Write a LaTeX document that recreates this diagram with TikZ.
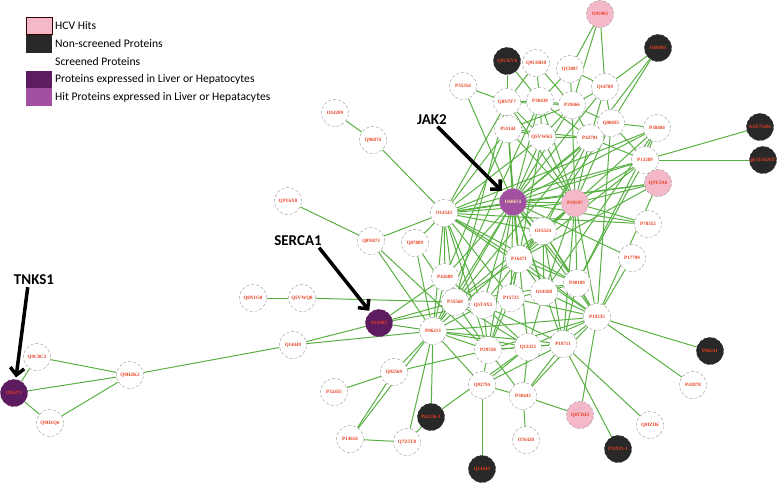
\documentclass[tikz,border=0pt]{standalone}
\usepackage{fontspec}
\setmainfont{Carlito}
\newfontfamily\idfont{Liberation Serif}
\usetikzlibrary{arrows.meta,backgrounds}
\definecolor{hitpink}{RGB}{245,184,200}
\definecolor{nonscreened}{RGB}{40,40,40}
\definecolor{liverpurple}{RGB}{94,28,96}
\definecolor{liverhitpurple}{RGB}{162,80,160}
\definecolor{linkgreen}{RGB}{88,176,66}
\definecolor{idred}{RGB}{232,62,30}
\definecolor{idyellow}{RGB}{250,235,160}

\begin{document}
\begin{tikzpicture}[x=1pt,y=-1pt,
    prot/.style={circle, minimum size=27pt, inner sep=0pt, draw=gray!80, densely dashed,
      line width=0.4pt, fill=white, text=idred, font=\idfont\bfseries\fontsize{5}{6}\selectfont},
    hit/.style={prot, fill=hitpink},
    nonscr/.style={prot, fill=nonscreened, draw=nonscreened},
    liver/.style={prot, fill=liverpurple, draw=liverpurple},
    liverhit/.style={prot, fill=liverhitpurple, text=idyellow},
    link/.style={draw=linkgreen, line width=1pt},
    pointer/.style={-{Straight Barb[length=7pt,width=14pt]}, line width=3.5pt},
    key/.style={minimum width=26pt, minimum height=17.5pt, inner sep=0pt},
    keytext/.style={anchor=west, inner sep=0pt, font=\fontsize{11.6}{13}\selectfont},
    callout/.style={inner sep=0pt, font=\bfseries\fontsize{15}{17}\selectfont}
  ]
  \useasboundingbox (0,0) rectangle (778,484);

  % legend
  \node[key, fill=hitpink, draw=black!80!red, line width=0.8pt] (keyhit) at (39,26) {};
  \node[key, fill=nonscreened] (keynon) at (39,44) {};
  \node[key, fill=white] (keyscr) at (39,62) {};
  \node[key, fill=liverpurple] (keyliver) at (39,79.5) {};
  \node[key, fill=liverhitpurple] (keyliverhit) at (39,97) {};
  \node[keytext] at (55,26) {HCV Hits};
  \node[keytext] at (55,44) {Non-screened Proteins};
  \node[keytext] at (55,62) {Screened Proteins};
  \node[keytext] at (55,79.5) {Proteins expressed in Liver or Hepatocytes};
  \node[keytext] at (55,97) {Hit Proteins expressed in Liver or Hepatacytes};

  % proteins
  \node[hit] (o95905) at (600,14) {O95905};
  \node[nonscr] (o60895) at (658,48) {O60895};
  \node[nonscr] (q9ukv8) at (507,61) {Q9UKV8};
  \node[prot] (q9uhd8) at (536,63) {Q9UHD8};
  \node[prot] (q13087) at (570,69) {Q13087};
  \node[prot] (q14789) at (605,87) {Q14789};
  \node[prot] (p35354) at (463,86) {P35354};
  \node[prot] (q8n7f7) at (507,102) {Q8N7F7};
  \node[prot] (p30430) at (540,101) {P30430};
  \node[prot] (p29466) at (572,105) {P29466};
  \node[prot] (q08695) at (611,123) {Q08695};
  \node[prot] (p38484) at (657,128) {P38484};
  \node[nonscr] (aay75381) at (760,127) {AAY75381};
  \node[prot] (p51144) at (508,129) {P51144};
  \node[prot] (q5vwk5) at (542,137) {Q5VWK5};
  \node[prot] (p42701) at (590,138) {P42701};
  \node[prot] (p13289) at (645,160) {P13289};
  \node[nonscr] (gi31) at (763,160) {gi|31542947};
  \node[hit] (q9y3a6) at (658,183) {Q9Y3A6};
  \node[liverhit] (o60674) at (513,202) {O60674};
  \node[hit] (p29597) at (575,203) {P29597};
  \node[prot] (p78352) at (648,224) {P78352};
  \node[prot] (o15524) at (543,231) {O15524};
  \node[prot] (p17790) at (632,258) {P17790};
  \node[prot] (o14209) at (335,113) {O14209};
  \node[prot] (q96874) at (373,140) {Q96874};
  \node[prot] (o14543) at (444,213) {O14543};
  \node[prot] (q9y6x8) at (288,201) {Q9Y6X8};
  \node[prot] (q8n873) at (371,241) {Q8N873};
  \node[prot] (q07889) at (415,243) {Q07889};
  \node[prot] (p42680) at (445,277) {P42680};
  \node[prot] (p16471) at (519,259) {P16471};
  \node[prot] (p35568) at (455,302) {P35568};
  \node[prot] (q5t4x3) at (483,305) {Q5T4X3};
  \node[prot] (p15723) at (511,298) {P15723};
  \node[prot] (o14508) at (544,292) {O14508};
  \node[prot] (p40189) at (577,283) {P40189};
  \node[prot] (p19235) at (597,317) {P19235};
  \node[prot] (p18711) at (563,344) {P18711};
  \node[prot] (q13322) at (528,347) {Q13322};
  \node[prot] (p29350) at (488,350) {P29350};
  \node[prot] (p06213) at (433,331) {P06213};
  \node[liver] (o14983) at (379,323) {O14983};
  \node[prot] (q5vwq8) at (302,298) {Q5VWQ8};
  \node[prot] (q8n1g0) at (253,298) {Q8N1G0};
  \node[prot] (q14449) at (293,345) {Q14449};
  \node[prot] (q9h2k2) at (130,375) {Q9H2K2};
  \node[liver] (o95271) at (14,393) {O95271};
  \node[prot] (q9c0c2) at (37,357) {Q9C0C2};
  \node[prot] (q9h1q6) at (50,423) {Q9H1Q6};
  \node[prot] (q92569) at (394,372) {Q92569};
  \node[prot] (p32455) at (334,392) {P32455};
  \node[prot] (p14616) at (350,439) {P14616};
  \node[prot] (q7z5t8) at (407,442) {Q7Z5T8};
  \node[nonscr] (p42336) at (431,417) {P42336-1};
  \node[prot] (q92794) at (482,385) {Q92794};
  \node[prot] (p30443) at (523,396) {P30443};
  \node[prot] (o76420) at (526,440) {O76420};
  \node[nonscr] (q14643) at (482,469) {Q14643};
  \node[hit] (q8td43) at (580,415) {Q8TD43};
  \node[nonscr] (p12931) at (618,449) {P12931-1};
  \node[prot] (q8izd6) at (650,425) {Q8IZD6};
  \node[prot] (p42878) at (693,385) {P42878};
  \node[nonscr] (p06241) at (710,351) {P06241};

  % interactions
  \begin{scope}[on background layer]
    \foreach \a/\b in {o95905/q13087, o95905/p29466, o95905/q14789,
        o60895/q14789, o60895/q08695, o60895/p42701,
        q9ukv8/q8n7f7, q9ukv8/p30430, q9uhd8/p30430, q9uhd8/p29466, q9uhd8/q8n7f7,
        q13087/p29466, q13087/q14789, q13087/p30430,
        q14789/p29466, q14789/q08695, q14789/p42701,
        aay75381/p13289, gi31/p13289, p35354/q8n7f7, p35354/o60674,
        o14209/q96874, q96874/o14543,
        q9y6x8/q8n873, q8n873/o14543, q8n873/p06213, q8n873/p29350,
        q07889/o14543, q07889/p35568, q07889/p06213,
        q8n1g0/q5vwq8, q5vwq8/p35568,
        q14449/q9h2k2, q14449/o14983, q14449/p06213,
        o14983/p35568, o14983/p42680, o14983/q5t4x3, o14983/p06213,
        q9h2k2/q9c0c2, q9h2k2/o95271, q9h2k2/q9h1q6, o95271/q9c0c2, o95271/q9h1q6,
        q92569/p06213, q92569/p32455, q92569/p14616, q92569/p29350,
        p14616/q7z5t8, p14616/p06213, q7z5t8/p42336, q7z5t8/p06213,
        p42336/p06213, p42336/q13322,
        q92794/q14643, q92794/p29350, q92794/p06213, q92794/p30443, q92794/p18711, q92794/q13322,
        p30443/o76420, p30443/q13322, p30443/p29350, p30443/p18711, p30443/p19235,
        q8td43/p19235, q8td43/p30443,
        p12931/p18711, q8izd6/p18711, p42878/p19235, p06241/p19235,
        p78352/p29597, p78352/o60674, p78352/o14543, p17790/o60674, p17790/p19235,
        q8n7f7/p30430, p30430/p29466, q8n7f7/p51144, p51144/q5vwk5, q5vwk5/p42701,
        p29466/p42701, p42701/q08695, q08695/p38484, q08695/p13289, p42701/p13289,
        p29466/q08695, p30430/q5vwk5, p30430/p42701, p38484/p13289, p51144/p42701,
        q8n7f7/q5vwk5, p29466/q5vwk5, p13289/q9y3a6, p29466/p51144, q8n7f7/p29466,
        q8n7f7/p35568, p51144/p16471, q5vwk5/p15723, p42701/o15524, q08695/p19235,
        p13289/p40189, p13289/p16471, p38484/o14508, q9y3a6/p16471, p51144/p42680,
        p30430/p06213, q9y3a6/p19235, p42701/p35568, p38484/p40189, q08695/p16471,
        p16471/p35568, p16471/q5t4x3, p16471/p15723, p16471/o14508, p16471/p40189,
        p16471/p19235, p16471/p29350, p42680/p35568, p42680/p06213, p42680/q5t4x3,
        p35568/q5t4x3, p35568/p06213, p35568/p29350, p35568/q13322,
        q5t4x3/p15723, q5t4x3/p06213, q5t4x3/p29350, q5t4x3/q13322, q5t4x3/p18711,
        p15723/o14508, p15723/p29350, p15723/p19235, o14508/p40189, o14508/p19235,
        o14508/q13322, p40189/p19235, p40189/p18711, p19235/p18711, p19235/q13322,
        p19235/p29350, p18711/q13322, p18711/p29350, q13322/p29350, p29350/p06213,
        p06213/q13322, p06213/p18711, p06213/p19235, o15524/p40189, o15524/p19235,
        o15524/p16471, o15524/o14508, o15524/p18711, p40189/p35568}
      \draw[link] (\a) -- (\b);
    \foreach \b in {o14543, p29597, o15524, p16471, p42680, p35568, q5t4x3, p15723,
        o14508, p40189, p19235, p18711, q13322, p29350, p06213, q8n7f7, p51144, q5vwk5,
        p42701, p30430, p29466, q08695, p13289, q9y3a6, p38484, q14789}
      \draw[link] (o60674) -- (\b);
    \foreach \b in {o14543, o15524, p16471, p40189, p19235, p18711, p42701, q08695,
        p38484, p13289, q9y3a6, p30430, p29466, q5vwk5, p51144, q8n7f7, p35568, o14508, p06213}
      \draw[link] (p29597) -- (\b);
    \foreach \b in {o15524, p16471, p42680, p35568, q5t4x3, p15723, p40189, p19235,
        p06213, p29350, q8n7f7, p51144, q5vwk5, p13289, q9y3a6, p38484}
      \draw[link] (o14543) -- (\b);
  \end{scope}

  % callouts
  \node[callout] (jaklabel) at (432,120) {JAK2};
  \node[callout] (sercalabel) at (298,241) {SERCA1};
  \node[callout] (tnkslabel) at (34,280) {TNKS1};
  \draw[pointer, shorten <=2pt, shorten >=2pt] ([xshift=4pt]jaklabel.south) -- (o60674);
  \draw[pointer, shorten <=2pt, shorten >=2pt] ([xshift=-4pt]sercalabel.south east) -- (o14983);
  \draw[pointer, shorten <=2pt, shorten >=2pt] ([xshift=-6pt]tnkslabel.south) -- (o95271);
\end{tikzpicture}
\end{document}
